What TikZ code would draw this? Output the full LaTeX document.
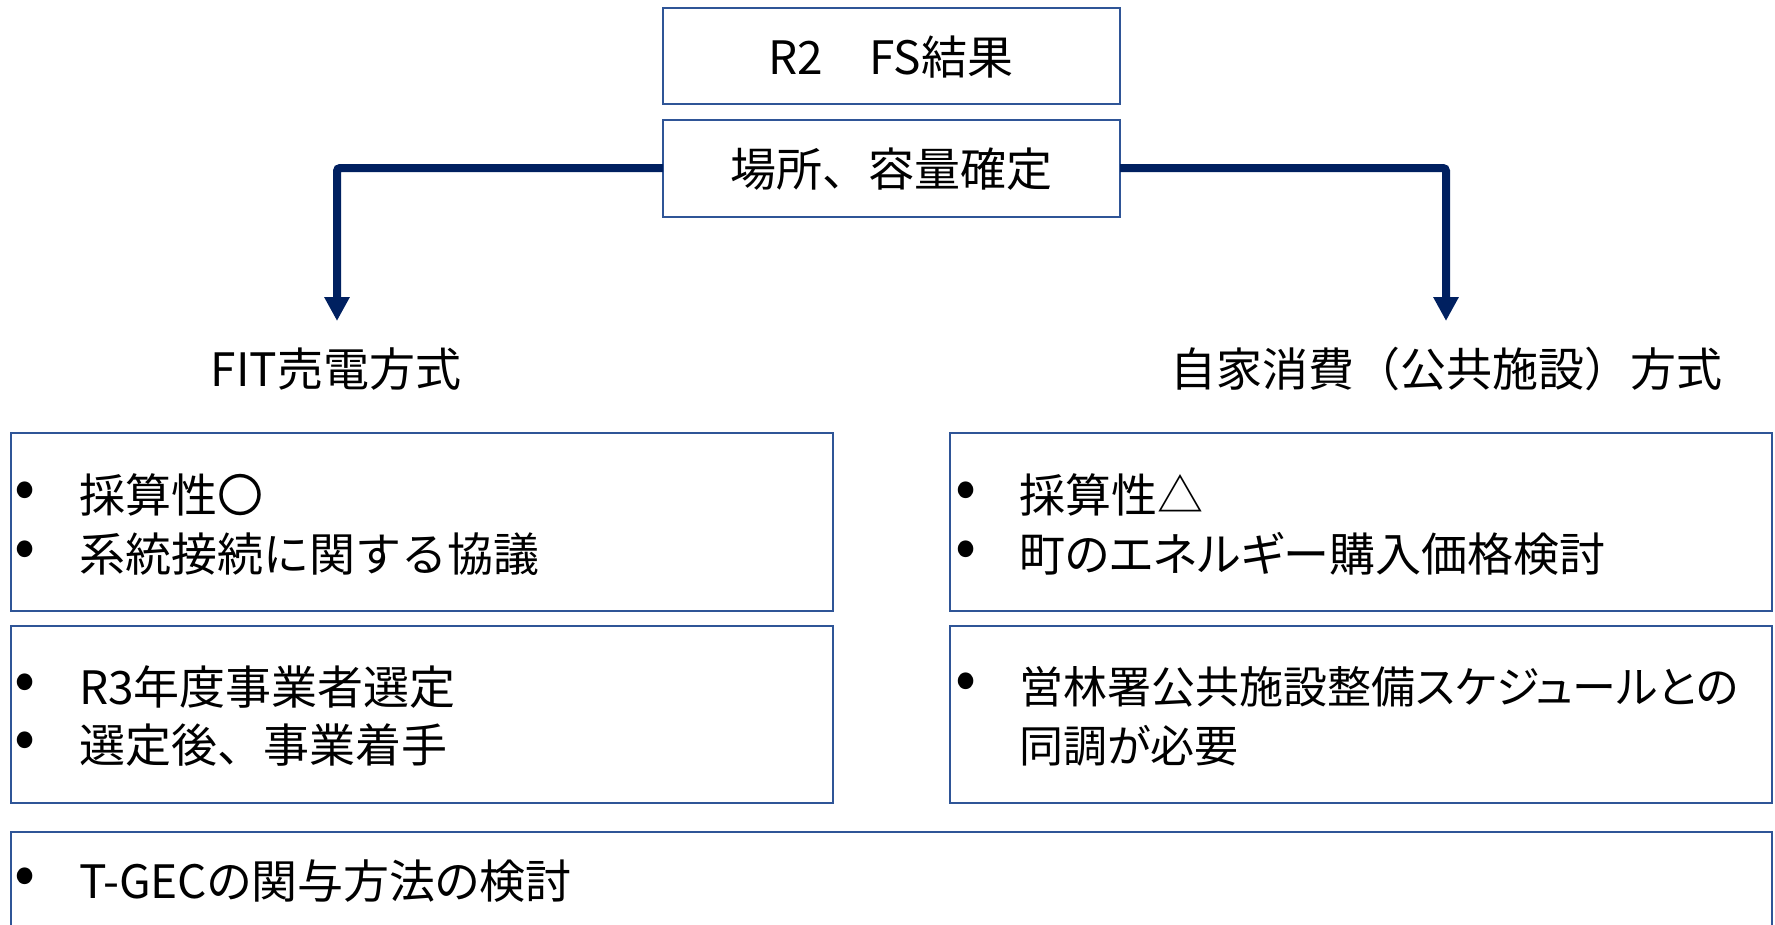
\documentclass[tikz,border=0pt]{standalone}
\usepackage{fontspec}
\setmainfont{Noto Sans CJK JP}
\newfontfamily\jpp[RawFeature=+palt]{Noto Sans CJK JP}
\usetikzlibrary{arrows.meta}
\definecolor{boxblue}{RGB}{47,85,151}
\definecolor{navy}{RGB}{0,32,96}
\tikzset{
  x=1pt, y=-1pt,
  frame/.style={draw=boxblue, line width=2pt, fill=white},
  txt/.style={inner sep=0pt, text height=40.5pt, text depth=5.5pt, font=\fontsize{46}{55}\selectfont, anchor=west},
  ctxt/.style={txt, anchor=center},
  bul/.style={inner sep=0pt, font=\fontsize{62}{70}\selectfont, anchor=center},
  conn/.style={draw=navy, line width=8pt, rounded corners=3pt, -{Triangle[width=24pt,length=24pt]}}
}
\begin{document}
\begin{tikzpicture}
\useasboundingbox (0,0) rectangle (1775,924);
\begin{scope}
\clip (0,0) rectangle (1775,924);
% top boxes
\draw[frame] (663,8) rectangle (1120,104);
\node[ctxt] (fs) at (891,57) {R2　FS結果};
\draw[frame] (663,120) rectangle (1120,217);
\coordinate (bL) at (663,168);
\coordinate (bR) at (1120,168);
\node[ctxt] (place) at (891,169) {場所、容量確定};
% headings
\node[ctxt] (fit) at (336,369) {FIT売電方式};
\node[ctxt] (self) at (1446,369) {自家消費（公共施設）方式};
\coordinate (tL) at (337,321);
\coordinate (tR) at (1446,321);
\draw[conn] (bL) -- (337,168) -- (tL);
\draw[conn] (bR) -- (1446,168) -- (tR);
% left boxes
\draw[frame] (11,433) rectangle (833,611);
\node[bul] (b1) at (25,495) {•};
\node[txt] (l1) at (79,495) {採算性〇};
\node[bul] (b2) at (25,554) {•};
\node[txt] (l2) at (79,554) {系統接続に関する協議};
\draw[frame] (11,626) rectangle (833,803);
\node[bul] (b3) at (25,687) {•};
\node[txt] (l3) at (79,687) {R3年度事業者選定};
\node[bul] (b4) at (25,745) {•};
\node[txt] (l4) at (79,745) {選定後、事業着手};
% right boxes
\draw[frame] (950,433) rectangle (1772,611);
\node[bul] (b5) at (966,495) {•};
\node[txt] (r1) at (1019,495) {採算性△};
\node[bul] (b6) at (966,554) {•};
\node[txt,font=\fontsize{46}{55}\jpp] (r2) at (1019,554) {町のエネルギー購入価格検討};
\draw[frame] (950,626) rectangle (1772,803);
\node[bul] (b7) at (966,686) {•};
\node[txt,font=\fontsize{44}{55}\jpp] (r3) at (1019,686) {営林署公共施設整備スケジュールとの};
\node[txt,font=\fontsize{44}{55}\jpp] (r4) at (1019,745) {同調が必要};
% bottom box
\draw[frame] (11,832) rectangle (1772,960);
\node[bul] (b8) at (25,881) {•};
\node[txt,font=\fontsize{46}{55}\jpp] (g1) at (79,881) {T-GECの関与方法の検討};
\end{scope}
\end{tikzpicture}
\end{document}
